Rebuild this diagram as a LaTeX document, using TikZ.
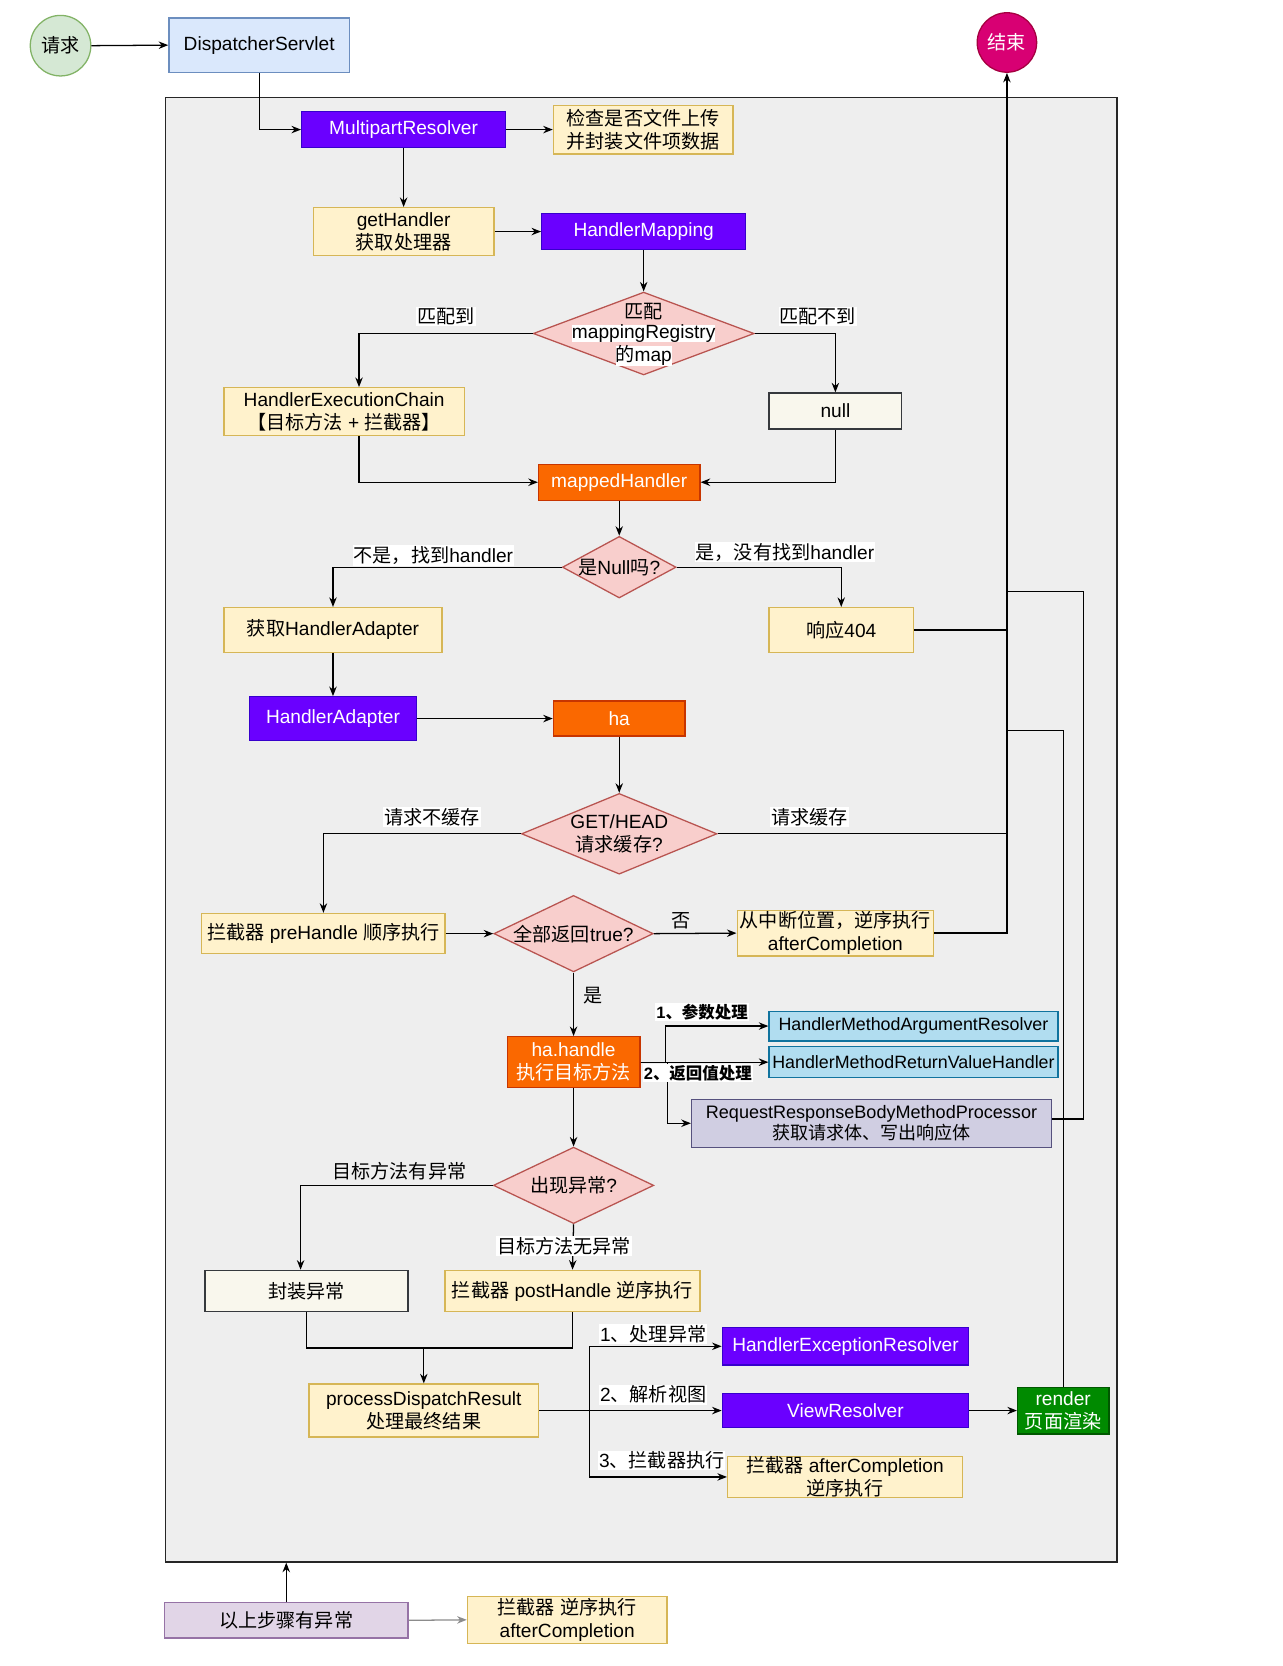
\documentclass[tikz,border=0pt]{standalone}
\usepackage{fontspec}
\setmainfont{Liberation Sans}
\newfontfamily\cjk{Noto Sans CJK SC}
\usetikzlibrary{shapes.geometric,arrows.meta,calc}
\newcommand{\zh}[1]{{\cjk #1}}
\definecolor{cyel}{HTML}{FFF2CC}\definecolor{cyelb}{HTML}{D6B656}
\definecolor{cpur}{HTML}{6A00FF}\definecolor{cpurb}{HTML}{3700CC}
\definecolor{cora}{HTML}{FA6800}\definecolor{corab}{HTML}{C73500}
\definecolor{cdia}{HTML}{F8CECC}\definecolor{cdiab}{HTML}{B85450}
\definecolor{cnul}{HTML}{F9F7ED}\definecolor{cnulb}{HTML}{36393D}
\definecolor{cblu}{HTML}{B1DDF0}\definecolor{cblub}{HTML}{10739E}
\definecolor{clav}{HTML}{D0CEE2}\definecolor{clavb}{HTML}{56517E}
\definecolor{cgrn}{HTML}{008A00}\definecolor{cgrnb}{HTML}{005700}
\definecolor{cvio}{HTML}{E1D5E7}\definecolor{cviob}{HTML}{9673A6}
\definecolor{cend}{HTML}{D80073}\definecolor{cendb}{HTML}{A50040}
\definecolor{cstart}{HTML}{D5E8D4}\definecolor{cstartb}{HTML}{82B366}
\definecolor{cds}{HTML}{DAE8FC}\definecolor{cdsb}{HTML}{6C8EBF}
\definecolor{ccont}{HTML}{EEEEEE}
\begin{document}
\begin{tikzpicture}[x=1pt,y=-1pt,
  sz/.style 2 args={minimum width=#1pt, minimum height=#2pt},
  box/.style={draw, line width=1.2pt, inner sep=0pt, align=center, font=\fontsize{18}{22}\selectfont},
  ybox/.style={box, fill=cyel, draw=cyelb},
  pbox/.style={box, fill=cpur, draw=cpurb, text=white},
  obox/.style={box, fill=cora, draw=corab, text=white},
  nbox/.style={box, fill=cnul, draw=cnulb},
  bbox/.style={box, fill=cblu, draw=cblub, font=\fontsize{16.8}{20}\selectfont},
  lbox/.style={box, fill=clav, draw=clavb, font=\fontsize{17}{20}\selectfont},
  gbox/.style={box, fill=cgrn, draw=cgrnb, text=white},
  vbox/.style={box, fill=cvio, draw=cviob},
  ell/.style={ellipse, draw, line width=1.2pt, inner sep=0pt, font=\fontsize{18}{22}\selectfont},
  dia/.style={diamond, draw=cdiab, fill=cdia, line width=1.2pt, inner sep=0pt},
  txt/.style={inner sep=0pt, align=center, font=\fontsize{18}{22}\selectfont},
  labw/.style={fill=white, inner sep=1pt, font=\fontsize{18}{22}\selectfont},
  labg/.style={inner sep=1pt, font=\fontsize{18}{22}\selectfont},
  labb/.style={fill=white, inner sep=1pt, font=\fontsize{15.5}{18}\selectfont\bfseries},
  ln/.style={line width=1.2pt},
  arr/.style={ln, -{Stealth[length=9pt,width=7pt]}}
]
\useasboundingbox (0,0) rectangle (1207,1568.5);
\fill[white] (0,0) rectangle (1207,1568.5);

% container
\node[draw=black!85, fill=ccont, line width=1.2pt, anchor=north west, sz={896}{1379}] (cont) at (155,91) {};

% nodes
\node[ell, fill=cstart, draw=cstartb, sz={57}{57}] (req) at (57,43) {\zh{请求}};
\node[box, fill=cds, draw=cdsb, sz={170}{51}] (ds) at (244,42.5) {DispatcherServlet};
\node[ell, fill=cend, draw=cendb, text=white, sz={56}{56}] (end) at (948,40) {\zh{结束}};

\node[pbox, sz={192}{34}] (mr) at (380,122) {MultipartResolver};
\node[ybox, sz={169}{46}] (chk) at (605.5,122) {\zh{检查是否文件上传}\\\zh{并封装文件项数据}};
\node[ybox, sz={170}{45}] (gh) at (380,218) {getHandler\\\zh{获取处理器}};
\node[pbox, sz={192}{34}] (hm) at (606,218) {HandlerMapping};
\node[dia, sz={208}{78}] (d1) at (606,314) {};
\node[ybox, sz={226}{45}] (hec) at (324,387.5) {HandlerExecutionChain\\\zh{【目标方法} + \zh{拦截器】}};
\node[nbox, sz={125}{34}] (null) at (786.5,387) {null};
\node[obox, sz={152}{34}] (mh) at (583,454) {mappedHandler};
\node[dia, sz={107}{58}] (d2) at (583,534) {};
\node[ybox, sz={205}{42}] (gha) at (313.5,593) {\zh{获取}HandlerAdapter};
\node[ybox, sz={136}{42}] (r404) at (792,593) {\zh{响应}404};
\node[pbox, sz={157}{41}] (hadp) at (313.5,676.5) {HandlerAdapter};
\node[obox, sz={124}{33}] (ha) at (583,676.5) {ha};
\node[dia, sz={184}{76}] (d3) at (583,785) {};
\node[ybox, sz={229}{38}] (pre) at (304.5,879) {\zh{拦截器} preHandle \zh{顺序执行}};
\node[dia, sz={150}{72}] (d4) at (540,879) {};
\node[ybox, sz={185}{43}] (afc1) at (786.5,878.5) {\zh{从中断位置，逆序执行}\\afterCompletion};
\node[obox, sz={125}{48}] (hh) at (540,1000) {ha.handle\\\zh{执行目标方法}};
\node[bbox, sz={272}{28}] (hmar) at (860,966) {HandlerMethodArgumentResolver};
\node[bbox, sz={272}{29}] (hmrv) at (860,1000) {HandlerMethodReturnValueHandler};
\node[lbox, sz={339}{45}] (rrb) at (820.5,1057.5) {RequestResponseBodyMethodProcessor\\\zh{获取请求体、写出响应体}};
\node[dia, sz={151}{72}] (d5) at (540,1116) {};
\node[nbox, sz={191}{39}] (fz) at (288.5,1215.5) {\zh{封装异常}};
\node[ybox, sz={240}{39}] (post) at (539,1215.5) {\zh{拦截器} postHandle \zh{逆序执行}};
\node[ybox, sz={216}{50}] (pdr) at (399,1328) {processDispatchResult\\\zh{处理最终结果}};
\node[pbox, sz={232}{35}] (her) at (796,1267.5) {HandlerExceptionResolver};
\node[pbox, sz={232}{32}] (vr) at (796,1328) {ViewResolver};
\node[gbox, sz={86}{44}] (rd) at (1001,1328) {render\\\zh{页面渲染}};
\node[ybox, sz={221}{39}] (afc2) at (795.5,1390.5) {};
\node[txt] (afc2t) at (afc2.center) {\zh{拦截器} afterCompletion\\\zh{逆序执行}};
\node[vbox, sz={229}{33}] (exc) at (269.5,1525.5) {\zh{以上步骤有异常}};
\node[ybox, sz={188}{44}] (afc3) at (534,1525) {\zh{拦截器} \zh{逆序执行}\\afterCompletion};

% diamond texts
\node[txt] (d1a) at (606,293) {\zh{匹配}};
\node[labw, inner sep=0pt] (d1b) at (606,314) {mappingRegistry};
\node[labw, inner sep=0pt] (d1c) at (606,335) {\zh{的}map};
\node[txt] (d2t) at (d2.center) {\zh{是}Null\zh{吗}?};
\node[txt] (d3t) at (d3.center) {GET/HEAD\\\zh{请求缓存}?};
\node[txt] (d4t) at (d4.center) {\zh{全部返回}true?};
\node[txt] (d5t) at (d5.center) {\zh{出现异常}?};

% coordinates
\coordinate (j1) at (948,557);
\coordinate (k1) at (1020,557);
\coordinate (j2) at (948,688);
\coordinate (mj) at (399,1269);
\coordinate (bj) at (555,1328);

% connectors
\draw[arr] (req.east) -- (ds.west);
\draw[arr] (ds.south) |- (mr.west);
\draw[arr] (mr.east) -- (chk.west);
\draw[arr] (mr.south) -- (gh.north);
\draw[arr] (gh.east) -- (hm.west);
\draw[arr] (hm.south) -- (d1.north);
\draw[arr] (d1.west) -| ([xshift=14pt]hec.north);
\draw[arr] (d1.east) -| (null.north);
\draw[arr] ([xshift=14pt]hec.south) |- (mh.west);
\draw[arr] (null.south) |- (mh.east);
\draw[arr] (mh.south) -- (d2.north);
\draw[arr] (d2.west) -| (gha.north);
\draw[arr] (d2.east) -| (r404.north);
\draw[ln] (r404.east) -- (r404.east -| end.south);
\draw[arr] (gha.south) -- (hadp.north);
\draw[arr] (hadp.east) -- (ha.west);
\draw[arr] (ha.south) -- (d3.north);
\draw[arr] (d3.west) -| (pre.north);
\draw[ln] (d3.east) -- (d3.east -| end.south);
\draw[arr] (pre.east) -- (d4.west);
\draw[arr] (d4.east) -- (afc1.west);
\draw[arr] (afc1.east) -| (end.south);
\draw[arr] (d4.south) -- (hh.north);
\draw[arr] (hh.east) -- ++(23.5,0) |- (hmar.west);
\draw[arr] (hh.east) -- (hmrv.west);
\draw[arr] (hh.east) -- ++(25,0) |- (rrb.west);
\draw[ln] ([yshift=4pt]rrb.east) -| (k1) -- (j1);
\draw[ln] (rd.north) |- (j2);
\draw[arr] (hh.south) -- (d5.north);
\draw[arr] (d5.west) -| ([xshift=-5.5pt]fz.north);
\draw[arr] (d5.south) -- (post.north);
\draw[ln] (fz.south) |- (mj);
\draw[ln] (post.south) |- (mj);
\draw[arr] (mj) -- (pdr.north);
\draw[arr] (pdr.east) -- (vr.west);
\draw[arr] (bj) |- (her.west);
\draw[arr] (bj) |- (afc2.west);
\draw[arr] (vr.east) -- (rd.west);
\draw[arr] (exc.north) -- (exc.north |- cont.south);
\draw[arr, draw=black!45] (exc.east) -- (afc3.west);

% labels
\node[labw] (l1) at (420,298) {\zh{匹配到}};
\node[labw] (l2) at (770,298) {\zh{匹配不到}};
\node[labw] (l3) at (408,523) {\zh{不是，找到}handler};
\node[labw] (l4) at (739,520) {\zh{是，没有找到}handler};
\node[labw] (l5) at (407,769) {\zh{请求不缓存}};
\node[labw] (l6) at (762,769) {\zh{请求缓存}};
\node[labg] (l7) at (641,867) {\zh{否}};
\node[labg] (l8) at (558,937) {\zh{是}};
\node[labb] (l9) at (661,953) {1\zh{、参数处理}};
\node[labb] (l10) at (657,1010) {2\zh{、返回值处理}};
\node[labg] (l11) at (376,1103) {\zh{目标方法有异常}};
\node[labw] (l12) at (531,1173) {\zh{目标方法无异常}};
\node[labw] (l13) at (615,1256) {1\zh{、处理异常}};
\node[labw] (l14) at (615,1313) {2\zh{、解析视图}};
\node[labw] (l15) at (623,1375) {3\zh{、拦截器执行}};
\end{tikzpicture}
\end{document}
